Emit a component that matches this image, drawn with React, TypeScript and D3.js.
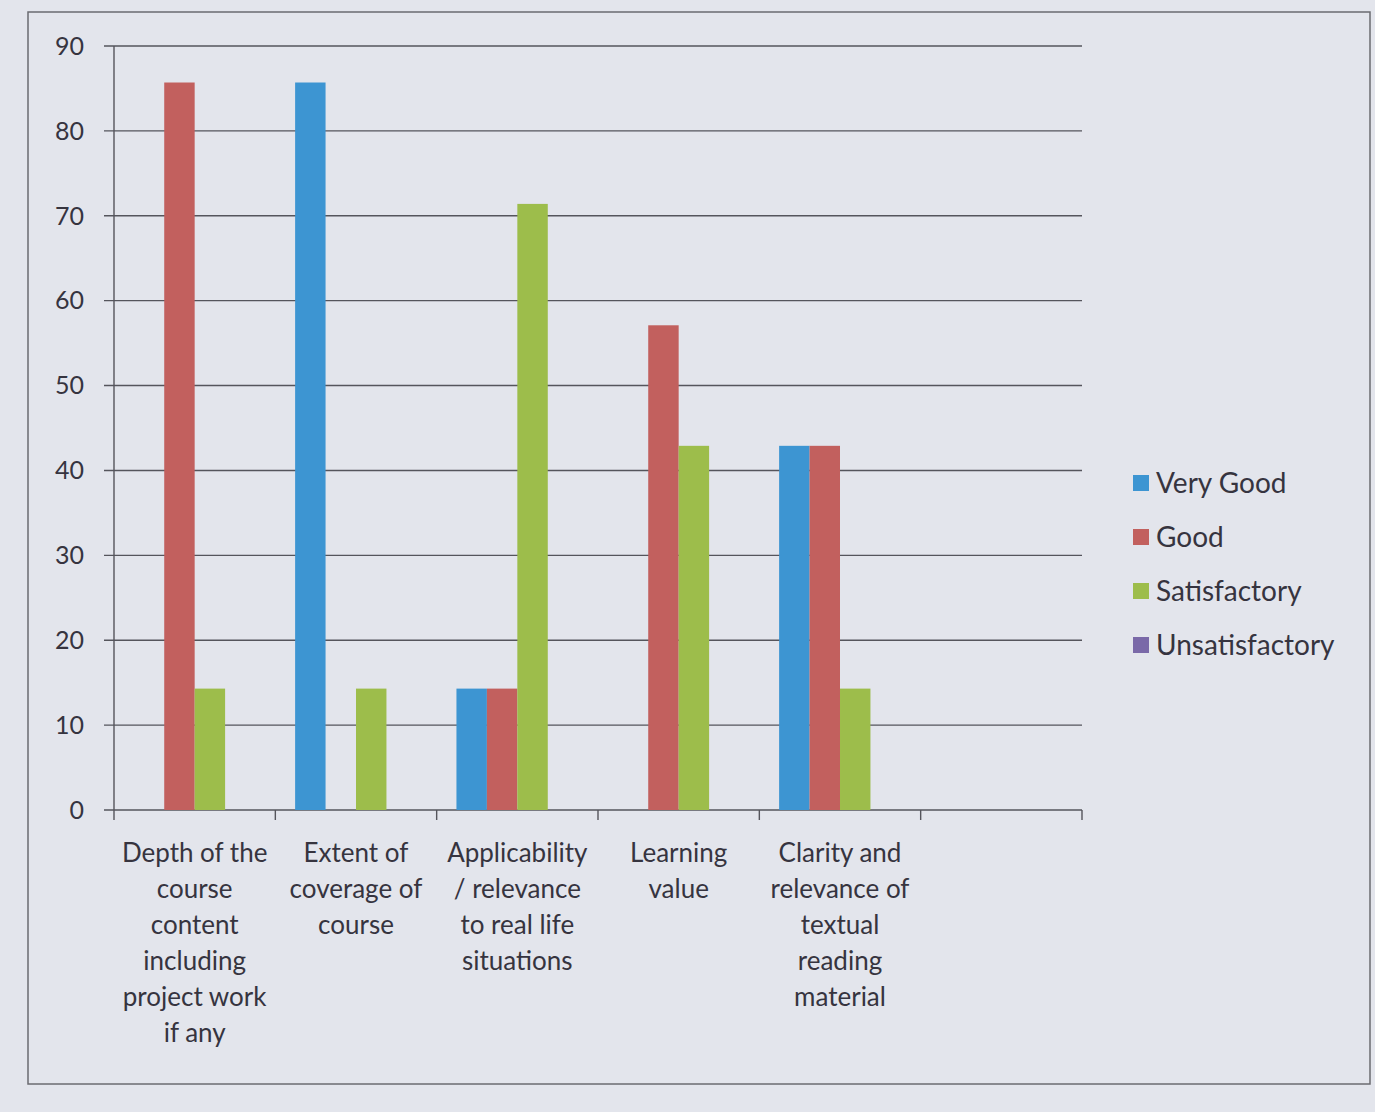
import React from "react";
import * as d3 from "d3";

const categories: string[] = [
  "Depth of the\ncourse\ncontent\nincluding\nproject work\nif any",
  "Extent of\ncoverage of\ncourse",
  "Applicability\n/ relevance\nto real life\nsituations",
  "Learning\nvalue",
  "Clarity and\nrelevance of\ntextual\nreading\nmaterial",
  "",
];
const seriesNames: string[] = ["Very Good", "Good", "Satisfactory", "Unsatisfactory"];
const veryGood: number[] = [0, 85.7, 14.3, 0, 42.9, 0];
const good: number[] = [85.7, 0, 14.3, 57.1, 42.9, 0];
const satisfactory: number[] = [14.3, 14.3, 71.4, 42.9, 14.3, 0];
const unsatisfactory: number[] = [0, 0, 0, 0, 0, 0];
const yTicks: number[] = [0, 10, 20, 30, 40, 50, 60, 70, 80, 90];
const seriesColors: string[] = ["#3d95d2", "#c2605e", "#9dbd4b", "#7a69a8"];

const W = 1375;
const H = 1112;
const M = { left: 114, right: 1082, top: 46, bottom: 810 };
const FONT = "Lato, 'Open Sans', sans-serif";
const TEXT = "#36343f";

export default function App() {
  const series = [veryGood, good, satisfactory, unsatisfactory];
  const x0 = d3.scaleBand<string>().domain(categories.map((_, i) => String(i))).range([M.left, M.right]).padding(0);
  const slot = x0.bandwidth();
  const bw = slot / 5.3;
  const x1 = d3.scaleBand<string>().domain(seriesNames).range([bw * 0.65, bw * 4.65]).padding(0);
  const y = d3.scaleLinear().domain([0, 90]).range([M.bottom, M.top]);

  return (
    <svg width={W} height={H} style={{ display: "block", position: "absolute", left: 0, top: 0, background: "#e3e5ec" }}>
      <rect x={28} y={12} width={1342} height={1072} fill="none" stroke="#6b6b70" strokeWidth={1.5} />
      {yTicks.map((t) => (
        <g key={t}>
          <line x1={M.left - 10} x2={M.right} y1={y(t)} y2={y(t)} stroke="#55555c" strokeWidth={1.4} />
          <text x={M.left - 30} y={y(t)} dy="0.35em" textAnchor="end" fontFamily={FONT} fontSize={25} fill={TEXT}>
            {t}
          </text>
        </g>
      ))}
      <line x1={M.left} x2={M.left} y1={M.top} y2={M.bottom} stroke="#55555c" strokeWidth={1.4} />
      {d3.range(categories.length + 1).map((i) => {
        const xx = M.left + i * slot;
        return <line key={i} x1={xx} x2={xx} y1={M.bottom} y2={M.bottom + 10} stroke="#55555c" strokeWidth={1.4} />;
      })}
      {categories.map((c, ci) =>
        series.map((s, si) => {
          const v = s[ci];
          if (!v) return null;
          return (
            <rect
              key={`${ci}-${si}`}
              x={(x0(String(ci)) as number) + (x1(seriesNames[si]) as number)}
              y={y(v)}
              width={x1.bandwidth()}
              height={y(0) - y(v)}
              fill={seriesColors[si]}
            />
          );
        })
      )}
      {categories.map((c, ci) => (
        <text
          key={ci}
          x={(x0(String(ci)) as number) + slot / 2}
          y={862}
          textAnchor="middle"
          fontFamily={FONT}
          fontSize={26}
          fill={TEXT}
        >
          {c.split("\n").map((line, li) => (
            <tspan key={li} x={(x0(String(ci)) as number) + slot / 2} dy={li === 0 ? 0 : 36}>
              {line}
            </tspan>
          ))}
        </text>
      ))}
      {seriesNames.map((n, i) => (
        <g key={n} transform={`translate(1133, ${483 + i * 54})`}>
          <rect x={0} y={-8} width={16} height={16} fill={seriesColors[i]} />
          <text x={23} y={0} dy="0.35em" fontFamily={FONT} fontSize={28} fill={TEXT}>
            {n}
          </text>
        </g>
      ))}
    </svg>
  );
}
